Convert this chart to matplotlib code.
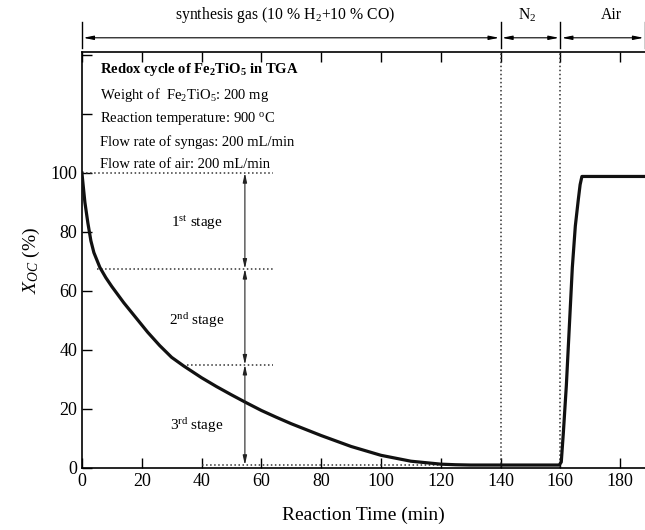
# Redox cycle of Fe2TiO5 in TGA - conversion vs. reaction time
import matplotlib
matplotlib.use("Agg")
import matplotlib.pyplot as plt
import matplotlib.transforms as mtransforms

plt.rcParams['font.family'] = ['Liberation Serif', 'DejaVu Serif']
plt.rcParams['mathtext.fontset'] = 'custom'
plt.rcParams['mathtext.rm'] = 'Liberation Serif'
plt.rcParams['mathtext.it'] = 'Liberation Serif:italic'
plt.rcParams['mathtext.bf'] = 'Liberation Serif:bold'

# Curve
time_min = [0, 0.5, 1, 2, 3, 4, 5, 6, 8, 10, 14, 18, 22, 26, 30, 34, 37,
            40, 45, 50, 55, 60, 65, 70, 80, 90, 100, 110, 120, 125, 130,
            140, 150, 159.6, 160.3, 161, 162, 163, 164, 165, 166, 166.6,
            167.2, 175, 190]
x_oc = [100, 95, 90, 83, 77, 73, 70.5, 68, 64.5, 61.5, 56, 51, 46, 41.5,
        37.5, 34.6, 32.6, 30.6, 27.6, 24.8, 22.1, 19.5, 17.2, 15, 11, 7.3,
        4.3, 2.3, 1.3, 1.1, 1, 1, 1, 1, 2, 12, 28, 48, 68, 82, 91, 96,
        98.8, 98.8, 98.8]

# Stage boundaries (X_OC levels) and their horizontal extents
stage_levels = [100, 67.5, 35, 1]
stage_x_start = [0, 5, 35, 40]
stage_x_end = [64, 64, 64, 125]
stage_arrow_x = 54.5
stage_labels = ['1$^{\\mathrm{st}}$ stage', '2$^{\\mathrm{nd}}$ stage',
                '3$^{\\mathrm{rd}}$ stage']
stage_label_y = [83, 50, 14.5]

# Gas atmosphere segments shown above the axes
gas_bounds = [0, 140, 160, 188.3]
gas_labels = ['synthesis gas (10 % H$_2$+10 % CO)', 'N$_2$', 'Air']
gas_label_x = [68, 149, 177]

info_lines = ['Weight of  Fe$_2$TiO$_5$: 200 mg',
              'Reaction temperature: 900 $^{\\mathrm{o}}$C',
              'Flow rate of syngas: 200 mL/min',
              'Flow rate of air: 200 mL/min']
info_title = 'Redox cycle of Fe$_\\mathbf{2}$TiO$_\\mathbf{5}$ in TGA'

fig = plt.figure(figsize=(6.45, 5.30), dpi=100)
ax = fig.add_axes([0.127, 0.117, 0.873, 0.785])

ax.plot(time_min, x_oc, color='#111111', linewidth=2.3, zorder=3)

ax.set_xlim(0, 188.3)
ax.set_ylim(0, 141)
ax.set_xticks(range(0, 181, 20))
ax.set_yticks(range(0, 141, 20))
ax.set_yticklabels(['0', '20', '40', '60', '80', '100', '', ''])
ax.tick_params(direction='in', length=7, width=1, labelsize=13,
               top=True, right=False)
ax.spines['right'].set_visible(False)
for s in ['left', 'bottom', 'top']:
    ax.spines[s].set_linewidth(1.2)

ax.set_xlabel('Reaction Time (min)', fontsize=14, labelpad=12)
ax.set_ylabel('$X_{OC}$ (%)', fontsize=14, labelpad=6)

# vertical dotted separators
for xv in [140, 160]:
    ax.axvline(xv, color='#333333', linestyle=':', linewidth=1.1)

# stage lines and arrows
for lvl, xs, xe in zip(stage_levels, stage_x_start, stage_x_end):
    ax.plot([xs, xe], [lvl, lvl], color='#333333', linestyle=':',
            linewidth=1.1)
for top, bot in zip(stage_levels[:-1], stage_levels[1:]):
    ax.annotate('', xy=(stage_arrow_x, bot), xytext=(stage_arrow_x, top),
                arrowprops=dict(arrowstyle='<|-|>,head_length=0.55,head_width=0.12',
                                color='#222222', lw=0.8, shrinkA=0, shrinkB=0))
for lab, yl in zip(stage_labels, stage_label_y):
    ax.text(38.5, yl, lab, fontsize=11, ha='center', va='center')

# info text block
ax.text(6, 134.9, info_title, fontsize=10.5, fontweight='bold',
        ha='left', va='center')
for i, line in enumerate(info_lines):
    ax.text(6, 126.4 - i * 7.9, line, fontsize=10.5, ha='left', va='center')

# gas atmosphere arrows above the plot
trans = mtransforms.blended_transform_factory(ax.transData, ax.transAxes)
for xb in gas_bounds:
    ax.plot([xb, xb], [1.010, 1.073], color='black', linewidth=1.0,
            transform=trans, clip_on=False)
for xs, xe in zip(gas_bounds[:-1], gas_bounds[1:]):
    ax.annotate('', xy=(xe, 1.034), xytext=(xs, 1.034), xycoords=trans,
                textcoords=trans, annotation_clip=False,
                arrowprops=dict(arrowstyle='<|-|>,head_length=0.6,head_width=0.12',
                                color='black', lw=0.8, shrinkA=1, shrinkB=1))
for lab, xl in zip(gas_labels, gas_label_x):
    ax.text(xl, 1.088, lab, fontsize=11.3, ha='center', va='center',
            transform=trans, clip_on=False)

fig.savefig('out.png', dpi=100)
plt.close(fig)
